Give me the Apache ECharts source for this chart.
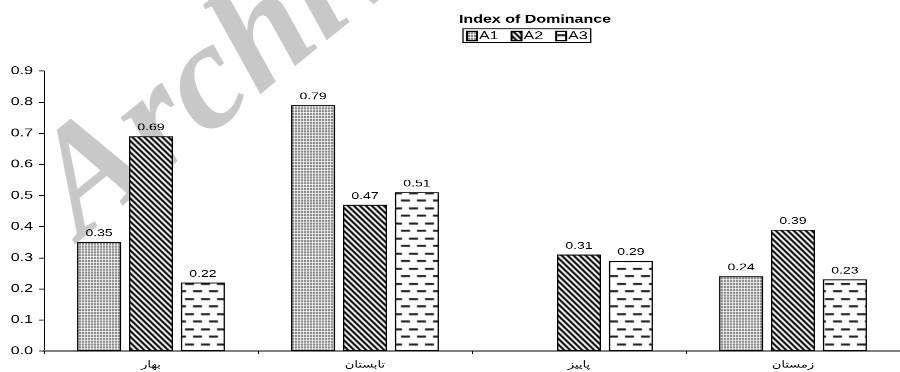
<!DOCTYPE html>
<html>
<head>
<meta charset="utf-8">
<script src="https://cdn.jsdelivr.net/npm/echarts@6/dist/echarts.min.js"></script>
<style>
  html, body { margin: 0; padding: 0; background: #fff; overflow: hidden; }
  #frame { width: 900px; height: 372px; overflow: hidden; }
  /* the chart is laid out tall and then squeezed vertically */
  #chart { width: 900px; height: 517px; transform: scaleY(0.72); transform-origin: 0 0; }
</style>
</head>
<body>
<div id="frame"><div id="chart"></div></div>
<script>
// Seasons (x axis) and dominance index per station
const seasons = ['بهار', 'تابستان', 'پاییز', 'زمستان'];
const seriesNames = ['A1', 'A2', 'A3'];
const a1Values = [0.35, 0.79, null, 0.24];
const a2Values = [0.69, 0.47, 0.31, 0.39];
const a3Values = [0.22, 0.51, 0.29, 0.23];
const yTicks = [0, 0.1, 0.2, 0.3, 0.4, 0.5, 0.6, 0.7, 0.8, 0.9];

const SQUEEZE = 0.72; // vertical scale applied to the whole chart

// Monochrome hatch fills (drawn tall so they look right once squeezed)
function tile(w, h, draw) {
  const c = document.createElement('canvas');
  c.width = w; c.height = h;
  const ctx = c.getContext('2d');
  ctx.fillStyle = '#fff';
  ctx.fillRect(0, 0, w, h);
  draw(ctx, w, h);
  return { image: c, repeat: 'repeat' };
}
const dotFill = tile(3, 4, ctx => {
  ctx.fillStyle = '#7a7a7a';
  ctx.fillRect(1, 1, 2, 3);
});
const stripeFill = tile(6, 8, (ctx, w, h) => {
  ctx.fillStyle = '#000';
  for (let k = -w; k <= w; k += w) {
    ctx.beginPath();
    ctx.moveTo(k, 0);
    ctx.lineTo(k + 3, 0);
    ctx.lineTo(k + 3 + w, h);
    ctx.lineTo(k + w, h);
    ctx.closePath();
    ctx.fill();
  }
});
const dashFill = tile(16, 21, ctx => {
  ctx.fillStyle = '#222';
  ctx.fillRect(1, 4, 9, 2.8);
  ctx.fillRect(9, 15, 9, 2.8);
  ctx.fillRect(-7, 15, 9, 2.8);
});
const fills = [dotFill, stripeFill, dashFill];
const valueSets = [a1Values, a2Values, a3Values];

const chart = echarts.init(document.getElementById('chart'), null, {
  renderer: 'canvas',
  devicePixelRatio: 2
});

const sans = '"Liberation Sans", Arial, sans-serif';

const series = seriesNames.map((name, i) => ({
  name,
  type: 'bar',
  data: valueSets[i].map(v => (v === null ? '-' : v)),
  barWidth: 44,
  barGap: '18%',
  itemStyle: { color: fills[i], borderColor: '#000', borderWidth: 1.3 },
  label: {
    show: true,
    position: 'top',
    distance: 5,
    color: '#000',
    fontFamily: sans,
    fontSize: 14,
    formatter: p => Number(p.value).toFixed(2)
  },
  emphasis: { disabled: true },
  z: 3
}));

chart.setOption({
  animation: false,
  title: {
    text: 'Index of Dominance',
    left: 530,
    top: 14,
    textAlign: 'center',
    textStyle: { fontFamily: sans, fontWeight: 'bold', fontSize: 16, color: '#000' }
  },
  legend: {
    data: seriesNames,
    left: 463,
    top: 40,
    orient: 'horizontal',
    borderColor: '#000',
    borderWidth: 1.3,
    borderRadius: 0,
    padding: [2, 3, 1, 3],
    itemWidth: 10,
    itemHeight: 13,
    itemGap: 12,
    icon: 'rect',
    selectedMode: false,
    textStyle: { fontFamily: sans, fontSize: 16, color: '#000', padding: [0, 0, 0, -3] }
  },
  graphic: [{
    // undo the squeeze so the stamp keeps its own proportions
    type: 'group',
    scaleY: 1 / SQUEEZE,
    silent: true,
    z: -10,
    children: [{
      type: 'text',
      x: 104,
      y: 268,
      rotation: 39 * Math.PI / 180,
      z: -10,
      silent: true,
      style: {
        text: 'Archive of SID',
        font: 'italic bold 152px "Liberation Serif", "Times New Roman", serif',
        fill: '#c8c8c8',
        verticalAlign: 'bottom'
      }
    }]
  }],
  grid: { left: 44, right: -8, top: 98.6, bottom: 29.5, containLabel: false },
  xAxis: {
    type: 'category',
    data: seasons,
    axisLine: { lineStyle: { color: '#808080', width: 2.8 } },
    axisTick: { show: true, length: 4, lineStyle: { color: '#000' } },
    axisLabel: { color: '#000', fontFamily: '"DejaVu Sans", sans-serif', fontSize: 13, margin: 13 }
  },
  yAxis: {
    type: 'value',
    min: yTicks[0],
    max: yTicks[yTicks.length - 1],
    interval: 0.1,
    axisLine: { show: true, lineStyle: { color: '#000', width: 1 } },
    axisTick: { show: true, length: 5, lineStyle: { color: '#000', width: 1.3 } },
    splitLine: { show: false },
    axisLabel: {
      color: '#000',
      fontFamily: sans,
      fontSize: 16,
      margin: 11,
      formatter: v => v.toFixed(1)
    }
  },
  series
});
</script>
</body>
</html>
